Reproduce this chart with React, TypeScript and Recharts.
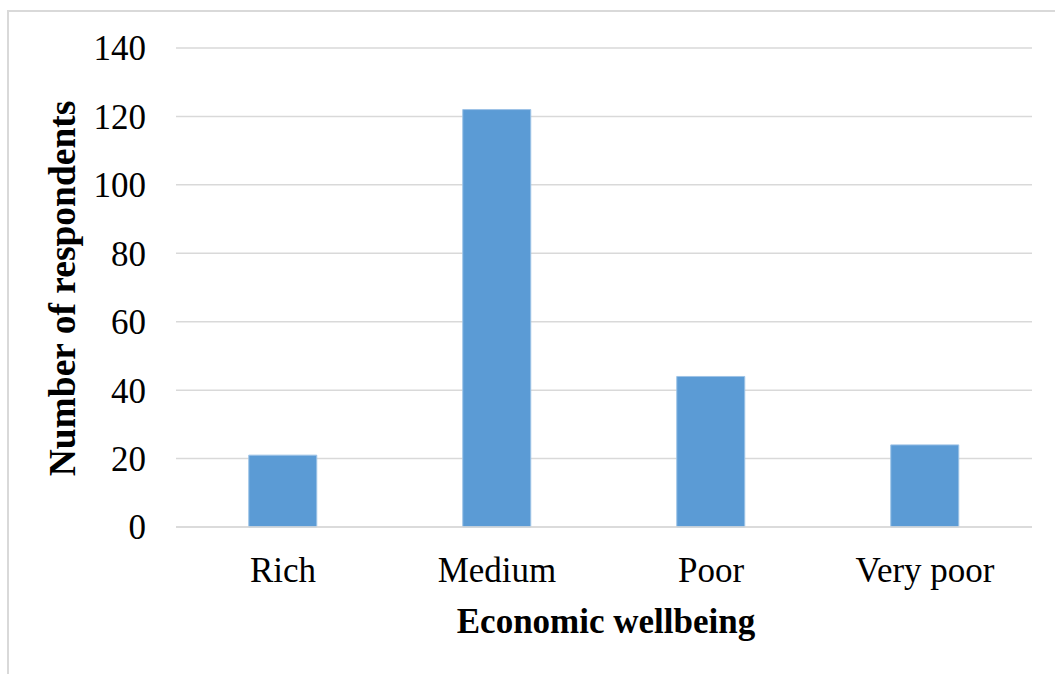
import React from 'react';
import { BarChart, Bar, XAxis, YAxis, CartesianGrid, Label } from 'recharts';

const categories = ['Rich', 'Medium', 'Poor', 'Very poor'];
const respondents = [21, 122, 44, 24];
const yTicks = [0, 20, 40, 60, 80, 100, 120, 140];

const data = categories.map((name, i) => ({ name, respondents: respondents[i] }));

const FONT = '"Liberation Serif", "Times New Roman", serif';

const YTitle = ({ viewBox }: any) => {
  const x = viewBox.x + 75;
  const y = viewBox.y + viewBox.height / 2 + 1;
  return (
    <text
      x={x}
      y={y}
      transform={`rotate(-90, ${x}, ${y})`}
      textAnchor="middle"
      fontFamily={FONT}
      fontWeight="bold"
      fontSize={37.5}
      fill="#000"
    >
      Number of respondents
    </text>
  );
};

const XTitle = ({ viewBox }: any) => (
  <text
    x={viewBox.x + viewBox.width / 2 + 2}
    y={633}
    textAnchor="middle"
    fontFamily={FONT}
    fontWeight="bold"
    fontSize={35}
    fill="#000"
  >
    Economic wellbeing
  </text>
);

export default function App() {
  return (
    <div style={{ position: 'absolute', left: 0, top: 0, width: 1055, height: 674, overflow: 'hidden', background: '#fff' }}>
      {/* outer frame, only left and top edges fall inside the picture */}
      <div style={{ position: 'absolute', left: 7, top: 10, width: 1200, height: 800, border: '2px solid #d9d9d9' }} />
      <div style={{ position: 'absolute', left: 0, top: 0 }}>
        <BarChart
          width={1055}
          height={674}
          data={data}
          margin={{ top: 48, right: 23, bottom: 0, left: 0 }}
          barCategoryGap="34%"
        >
          <CartesianGrid vertical={false} stroke="#d9d9d9" strokeWidth={1.5} />
          <XAxis
            dataKey="name"
            height={147}
            axisLine={{ stroke: '#d9d9d9', strokeWidth: 1.5 }}
            tickLine={false}
            tickSize={0}
            tickMargin={30}
            tick={{ fontFamily: FONT, fontSize: 35, fill: '#000' }}
            interval={0}
          >
            <Label content={<XTitle />} />
          </XAxis>
          <YAxis
            width={176}
            domain={[0, 140]}
            ticks={yTicks}
            axisLine={false}
            tickLine={false}
            tickSize={0}
            tickMargin={30}
            tick={{ fontFamily: FONT, fontSize: 35, fill: '#000' }}
          >
            <Label content={<YTitle />} />
          </YAxis>
          <Bar dataKey="respondents" fill="#5b9bd5" stroke="#9dc3e6" strokeWidth={1} isAnimationActive={false} />
        </BarChart>
      </div>
    </div>
  );
}
